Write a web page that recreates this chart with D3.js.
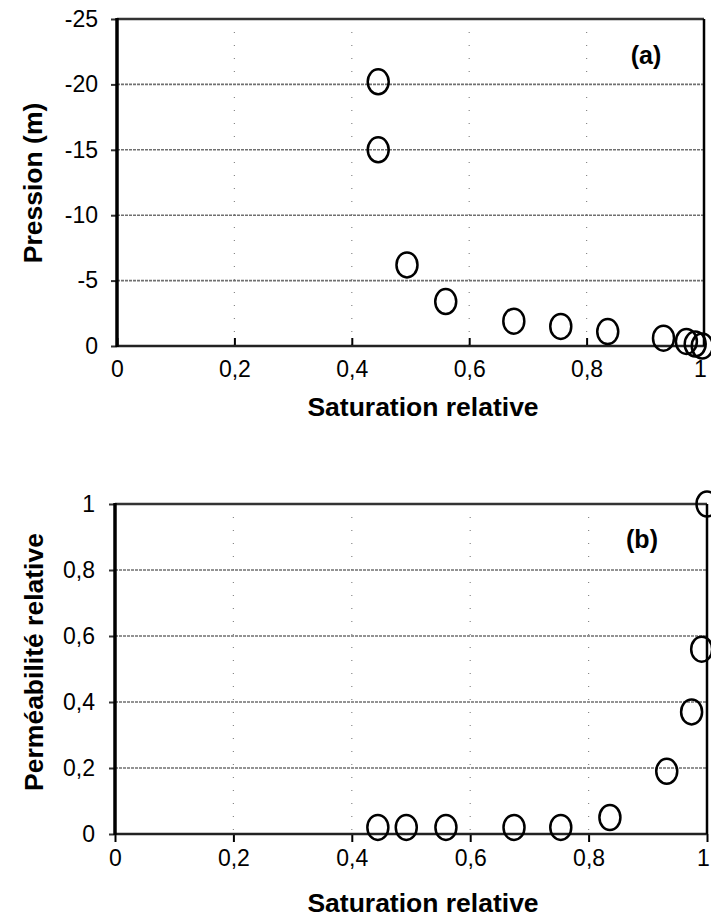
<!DOCTYPE html>
<html>
<head>
<meta charset="utf-8">
<script src="https://cdn.jsdelivr.net/npm/d3@7"></script>
<style>
  body { margin: 0; background: #fff; }
  svg { display: block; font-family: "Liberation Sans", Arial, sans-serif; }
</style>
</head>
<body>
<svg width="711" height="922"></svg>
<script>
// (a) pressure vs relative saturation
var satA = [0.445, 0.445, 0.494, 0.56, 0.676, 0.756, 0.836, 0.931, 0.970, 0.985, 0.997];
var presA = [-20.2, -15, -6.2, -3.4, -1.9, -1.5, -1.1, -0.6, -0.35, -0.15, 0];
var yTicksA = [0, -5, -10, -15, -20, -25];

// (b) relative permeability vs relative saturation
var satB = [0.444, 0.492, 0.559, 0.674, 0.753, 0.836, 0.932, 0.974, 0.991, 1.0];
var permB = [0.02, 0.02, 0.02, 0.02, 0.02, 0.05, 0.19, 0.37, 0.56, 1.0];
var yTicksB = [0, 0.2, 0.4, 0.6, 0.8, 1];

var xTicks = [0, 0.2, 0.4, 0.6, 0.8, 1];

var svg = d3.select("svg");

// french number format: comma decimal, plain hyphen for minus
var fr = d3.formatLocale({decimal: ",", thousands: " ", grouping: [3], currency: ["", " €"], minus: "-"});
var fmt = fr.format("~g");

function panel(o) {
    var x = d3.scaleLinear().domain([0, 1]).range([o.left, o.right]);
    var y = d3.scaleLinear().domain(o.yDomain).range([o.bottom, o.top]);
    var g = svg.append("g");

    // vertical sparse dotted grid
    g.selectAll(".vgrid")
        .data(xTicks.slice(1, -1))
        .enter().append("line")
            .attr("x1", function (d) { return x(d); })
            .attr("x2", function (d) { return x(d); })
            .attr("y1", o.top)
            .attr("y2", o.bottom)
            .attr("stroke", "#888")
            .attr("stroke-width", 1.2)
            .attr("stroke-dasharray", "1,12");

    // horizontal dotted grid
    g.selectAll(".hgrid")
        .data(o.yTicks.slice(1, -1))
        .enter().append("line")
            .attr("x1", o.left)
            .attr("x2", o.right)
            .attr("y1", function (d) { return y(d); })
            .attr("y2", function (d) { return y(d); })
            .attr("stroke", "#707070")
            .attr("stroke-width", 1.6)
            .attr("stroke-dasharray", "3,1");

    // x axis
    var xa = g.append("g")
        .attr("transform", "translate(0," + o.bottom + ")")
        .call(d3.axisBottom(x).tickValues(xTicks).tickFormat(fmt)
            .tickSize(o.xTickSize).tickPadding(o.xPad));
    xa.select(".domain").remove();
    xa.selectAll("line").attr("stroke", "#000").attr("stroke-width", 2);
    xa.selectAll("text").attr("font-size", 23).attr("fill", "#000")
        .style("font-family", "'Liberation Sans', Arial, sans-serif");
    // last label sits right at the page edge; nudge it in
    xa.selectAll("text").filter(function (d) { return d === 1; }).attr("dx", -4);

    // y axis
    var ya = g.append("g")
        .attr("transform", "translate(" + o.left + ",0)")
        .call(d3.axisLeft(y).tickValues(o.yTicks).tickFormat(fmt)
            .tickSize(6).tickPadding(o.yPad));
    ya.select(".domain").remove();
    ya.selectAll("line").attr("stroke", "#333").attr("stroke-width", 2);
    ya.selectAll("text").attr("font-size", 23).attr("fill", "#000")
        .style("font-family", "'Liberation Sans', Arial, sans-serif");

    // frame
    g.append("line").attr("x1", o.left).attr("x2", o.right).attr("y1", o.top).attr("y2", o.top)
        .attr("stroke", "#333").attr("stroke-width", 2.5);
    g.append("line").attr("x1", o.left).attr("x2", o.right).attr("y1", o.bottom).attr("y2", o.bottom)
        .attr("stroke", "#222").attr("stroke-width", 2.5);
    g.append("line").attr("x1", o.right).attr("x2", o.right).attr("y1", o.top).attr("y2", o.bottom)
        .attr("stroke", "#000").attr("stroke-width", 2.5);
    g.append("line").attr("x1", o.left).attr("x2", o.left).attr("y1", o.top - 1).attr("y2", o.bottom + 1)
        .attr("stroke", "#000").attr("stroke-width", 3.5);

    // points
    g.selectAll(".pt")
        .data(o.xs)
        .enter().append("ellipse")
            .attr("cx", function (d) { return x(d); })
            .attr("cy", function (d, i) { return y(o.ys[i]); })
            .attr("rx", 10.5)
            .attr("ry", 12.5)
            .attr("fill", "none")
            .attr("stroke", "#000")
            .attr("stroke-width", 2.5);

    // titles
    g.append("text")
        .attr("x", 423)
        .attr("y", o.xTitleY)
        .attr("text-anchor", "middle")
        .attr("font-size", 26.5)
        .attr("font-weight", "bold")
        .text("Saturation relative");
    g.append("text")
        .attr("transform", "translate(" + o.yTitleX + "," + o.yTitleY + ") rotate(-90)")
        .attr("text-anchor", "middle")
        .attr("font-size", 26.5)
        .attr("font-weight", "bold")
        .text(o.yTitle);
    g.append("text")
        .attr("x", o.tagX)
        .attr("y", o.tagY)
        .attr("text-anchor", "middle")
        .attr("font-size", 25)
        .attr("font-weight", "bold")
        .text(o.tag);
}

panel({
    left: 117, right: 704, top: 19, bottom: 346,
    yDomain: [0, -25], yTicks: yTicksA,
    xs: satA, ys: presA,
    xTickSize: -8, xPad: 15, yPad: 13,
    xTitleY: 416, yTitleX: 42, yTitleY: 183,
    yTitle: "Pression (m)",
    tag: "(a)", tagX: 646, tagY: 64
});

panel({
    left: 115, right: 707, top: 504, bottom: 834,
    yDomain: [0, 1], yTicks: yTicksB,
    xs: satB, ys: permB,
    xTickSize: 8, xPad: 8, yPad: 14,
    xTitleY: 912, yTitleX: 43, yTitleY: 662,
    yTitle: "Perméabilité relative",
    tag: "(b)", tagX: 642, tagY: 548
});
</script>
</body>
</html>
